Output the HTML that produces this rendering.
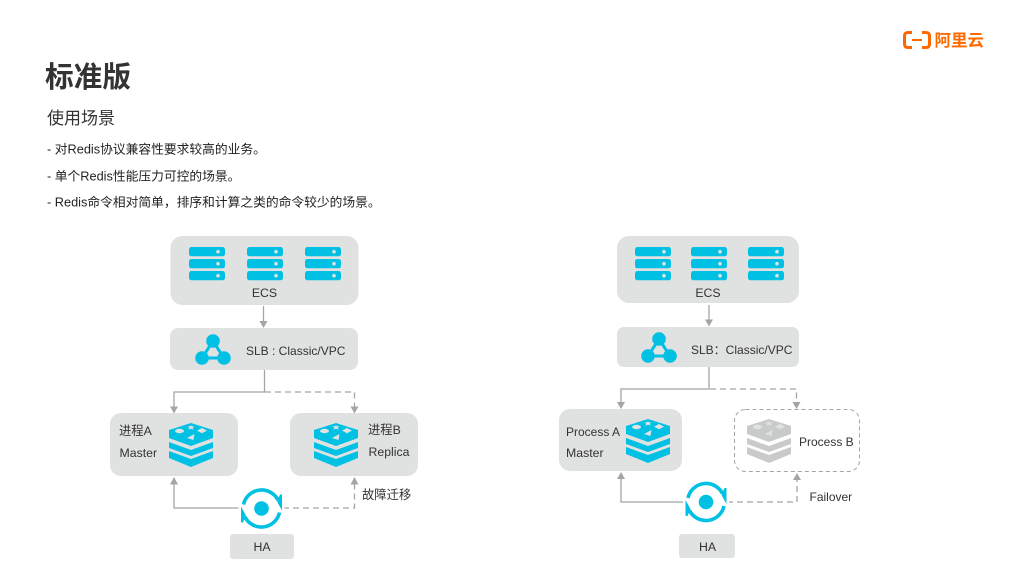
<!DOCTYPE html>
<html lang="zh">
<head>
<meta charset="utf-8">
<style>
html,body{margin:0;padding:0;background:#fff;width:1024px;height:576px;overflow:hidden}
svg{display:block}
text{font-family:"Liberation Sans","Noto Sans CJK SC",sans-serif;fill:#333}
.box{fill:#e0e1e1}
.l{fill:none;stroke:#a3a5a7;stroke-width:1.3}
.d{fill:none;stroke:#a3a5a7;stroke-width:1.3;stroke-dasharray:6 4}
.a{fill:#a3a5a7}
.c{fill:#00c1e4}
.t{font-size:12.3px}
.b{font-size:12.75px;fill:#222}
</style>
</head>
<body>
<svg width="1024" height="576" viewBox="0 0 1024 576" xmlns="http://www.w3.org/2000/svg">
<defs>
<g id="srv">
<rect x="0" y="0" width="36" height="9.3" rx="2.5" class="c"/>
<rect x="0" y="12" width="36" height="9.3" rx="2.5" class="c"/>
<rect x="0" y="24" width="36" height="9.3" rx="2.5" class="c"/>
<circle cx="29" cy="4.7" r="1.8" fill="#e0e1e1"/>
<circle cx="29" cy="16.7" r="1.8" fill="#e0e1e1"/>
<circle cx="29" cy="28.7" r="1.8" fill="#e0e1e1"/>
</g>
<g id="slb">
<path d="M0 0L-11 17H11Z" fill="none" stroke="#00c1e4" stroke-width="3"/>
<circle cx="0" cy="0" r="6.8" class="c"/>
<circle cx="-11" cy="17" r="6.8" class="c"/>
<circle cx="11" cy="17" r="6.8" class="c"/>
</g>
<g id="redis">
<path d="M22 0L44 7V15L22 23L0 15V7Z"/>
<path d="M0 19L22 27L44 19V25L22 33L0 25Z"/>
<path d="M0 28L22 36L44 28V35L22 44L0 35Z"/>
<g fill="#e0e1e1">
<ellipse cx="10.500" cy="8" rx="4.500" ry="2.200"/>
<path d="M22 2l.9 1.400h2.800l-1.900 1.400 .7 1.900-2.500-1.100-2.500 1.100 .7-1.900-1.900-1.400h2.800Z"/>
<path d="M33 5l5 2.600-5 2.600-5-2.600Z"/>
<path d="M18 15l7.500-4-1 6Z"/>
</g>
</g>
<g id="ha">
<circle r="23" fill="#fff"/>
<path d="M-18 -4A18.500 18.500 0 0 1 16.500 -8.500" fill="none" stroke="#00c1e4" stroke-width="3.600"/>
<path d="M18 4A18.500 18.500 0 0 1 -16.500 8.500" fill="none" stroke="#00c1e4" stroke-width="3.600"/>
<path d="M18.500 -14L20.500 -14V2L15.500 -7Z" class="c"/>
<path d="M-18.500 14L-20.500 14V-2L-15.500 7Z" class="c"/>
<circle r="7.300" class="c"/>
</g>
</defs>

<!-- header -->
<text x="45" y="87" font-size="28.700" font-weight="700" style="fill:#333">标准版</text>
<text x="47" y="124" font-size="17" style="fill:#333">使用场景</text>
<text x="47" y="153.500" class="b">- 对Redis协议兼容性要求较高的业务。</text>
<text x="47" y="180.500" class="b">- 单个Redis性能压力可控的场景。</text>
<text x="47" y="206.500" class="b">- Redis命令相对简单，排序和计算之类的命令较少的场景。</text>

<!-- logo -->
<path d="M912 32.500H908Q904.500 32.500 904.500 36V44Q904.500 47.500 908 47.500H912M922 32.500H926Q929.500 32.500 929.500 36V44Q929.500 47.500 926 47.500H922" fill="none" stroke="#ff6a00" stroke-width="3"/>
<rect x="912" y="39" width="10" height="2" fill="#ff6a00"/>
<text x="934.500" y="46" font-size="16.500" font-weight="700" style="fill:#ff6a00">阿里云</text>

<!-- LEFT DIAGRAM -->
<rect x="170.500" y="236" width="188" height="69" rx="12" class="box"/>
<use href="#srv" x="189" y="247"/>
<use href="#srv" x="247" y="247"/>
<use href="#srv" x="305" y="247"/>
<text x="264.500" y="297" class="t" text-anchor="middle">ECS</text>
<path class="l" d="M263.500 306V322"/>
<path class="a" d="M259.500 321H267.500L263.500 328Z"/>
<rect x="170" y="328" width="188" height="42" rx="8" class="box"/>
<use href="#slb" x="213" y="341"/>
<text x="246" y="355" font-size="12">SLB : Classic/VPC</text>
<path class="l" d="M264.500 370V392H174V408"/>
<path class="a" d="M170 406.500H178L174 413.500Z"/>
<path class="d" d="M265 392H354.500V408"/>
<path class="a" d="M350.500 406.500H358.500L354.500 413.500Z"/>

<rect x="110" y="413" width="128" height="63" rx="11" class="box"/>
<rect x="290" y="413" width="128" height="63" rx="11" class="box"/>
<use href="#redis" x="169" y="423" class="c"/>
<use href="#redis" x="314" y="423" class="c"/>
<text x="119" y="435" class="t">进程A</text>
<text x="119.500" y="457" class="t">Master</text>
<text x="368" y="434" class="t">进程B</text>
<text x="368.500" y="456" class="t">Replica</text>

<path class="l" d="M174 484V508H240"/>
<path class="a" d="M170 484.500H178L174 477Z"/>
<path class="d" d="M283 508H354.500V484"/>
<path class="a" d="M350.500 484.500H358.500L354.500 477Z"/>
<use href="#ha" x="261.500" y="508.500"/>
<text x="362" y="499" class="t">故障迁移</text>
<rect x="230" y="534" width="64" height="25" rx="3" class="box"/>
<text x="262" y="551" class="t" text-anchor="middle">HA</text>

<!-- RIGHT DIAGRAM -->
<rect x="617" y="236" width="182" height="67" rx="12" class="box"/>
<use href="#srv" x="635" y="247"/>
<use href="#srv" x="691" y="247"/>
<use href="#srv" x="748" y="247"/>
<text x="708" y="297" class="t" text-anchor="middle">ECS</text>
<path class="l" d="M709 305V321"/>
<path class="a" d="M705 319.500H713L709 326.500Z"/>
<rect x="617" y="327" width="182" height="40" rx="7" class="box"/>
<use href="#slb" x="659" y="339"/>
<text x="691" y="354" font-size="12">SLB：Classic/VPC</text>
<path class="l" d="M709 367V389H621V404"/>
<path class="a" d="M617 402H625L621 409Z"/>
<path class="d" d="M710 389H796.500V404"/>
<path class="a" d="M792.500 402H800.500L796.500 409Z"/>

<rect x="559" y="409" width="123" height="62" rx="11" class="box"/>
<rect x="734.500" y="409.500" width="125" height="62" rx="11" fill="#fff" stroke="#a3a5a7" stroke-width="1" stroke-dasharray="4 3"/>
<use href="#redis" x="626" y="419" class="c"/>
<g style="fill:#c9caca"><use href="#redis" x="747" y="419"/></g>
<text x="566" y="436" font-size="12">Process A</text>
<text x="566" y="457" class="t">Master</text>
<text x="799" y="446" font-size="12">Process B</text>

<path class="l" d="M621 479V502H690"/>
<path class="a" d="M617 479H625L621 472Z"/>
<path class="d" d="M727 502H797V479"/>
<path class="a" d="M793 480H801L797 473Z"/>
<use href="#ha" x="706" y="502"/>
<text x="809.500" y="501" font-size="12">Failover</text>
<rect x="679" y="534" width="56" height="24" rx="3" class="box"/>
<text x="707.500" y="551" class="t" text-anchor="middle">HA</text>
</svg>
</body>
</html>
